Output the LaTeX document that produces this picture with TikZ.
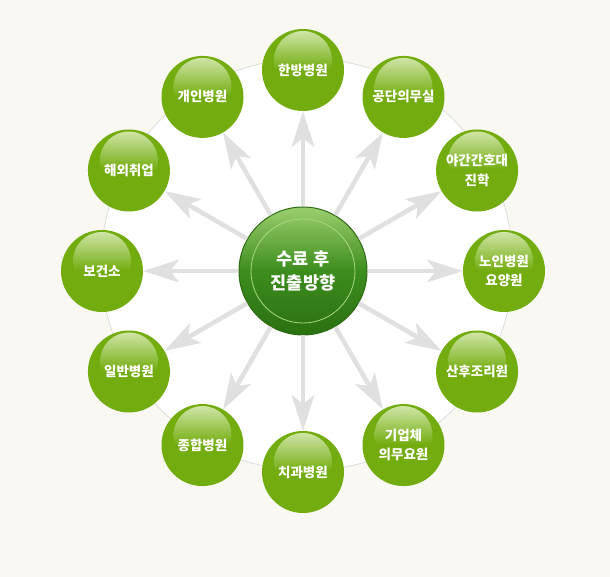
\documentclass[tikz,border=0pt]{standalone}
\usepackage{fontspec}
\setmainfont{Noto Sans CJK KR}
\usetikzlibrary{arrows.meta}

\definecolor{paper}{HTML}{F9F8F3}
\definecolor{ringgray}{HTML}{DCDCDA}
\definecolor{spokegray}{HTML}{E0E0E0}
\definecolor{leaf}{HTML}{72AC0E}
\definecolor{leaflight}{HTML}{D4E8AE}
\definecolor{pinelight}{HTML}{9CCF6E}
\definecolor{pine}{HTML}{3D8D1E}
\definecolor{pinedark}{HTML}{2A7011}
\definecolor{pineedge}{HTML}{2E6A10}
\definecolor{hubring}{HTML}{A9D884}

\tikzset{
	career/.style={circle, minimum size=82pt, inner sep=0pt, fill=leaf,
		text=white, align=center, font=\fontsize{13.5}{19.5}\selectfont\bfseries,
		path picture={\shade[top color=leaflight, bottom color=leaf, middle color=leaf]
			([yshift=-31pt]path picture bounding box.north) circle (29pt);}},
	hub/.style={circle, minimum size=128pt, inner sep=0pt, draw=pineedge, line width=1pt,
		top color=pinelight, bottom color=pinedark, middle color=pine,
		text=white, align=center, font=\fontsize{17.5}{24}\selectfont\bfseries,
		path picture={\draw[hubring, line width=0.8pt]
			(path picture bounding box.center) circle (52pt);}},
	spoke/.style={draw=spokegray, line width=4.5pt,
		-{Stealth[length=36pt, width=23pt, inset=9pt, line width=0pt]}}
}

\begin{document}
\begin{tikzpicture}[x=1pt, y=1pt]
	\fill [paper] (-303, -306) rectangle (307, 271);
	\useasboundingbox (-303, -306) rectangle (307, 271);
	\filldraw [fill=white, draw=ringgray, line width=0.8pt] (4, 6.5) circle[radius=206];

	\node[career] (hanbang) at (90:201) {한방병원};
	\node[career] (gongdan) at (60:201) {공단의무실};
	\node[career] (yagan) at (30:201) {야간간호대\\진학};
	\node[career] (noin) at (0:201) {노인병원\\요양원};
	\node[career] (sanhu) at (-30:201) {산후조리원};
	\node[career] (gieop) at (-60:201) {기업체\\의무요원};
	\node[career] (chigwa) at (-90:201) {치과병원};
	\node[career] (jonghap) at (-120:201) {종합병원};
	\node[career] (ilban) at (-150:201) {일반병원};
	\node[career] (bogeonso) at (180:201) {보건소};
	\node[career] (haeoe) at (150:201) {해외취업};
	\node[career] (gaein) at (120:201) {개인병원};

	\node[hub] (hub) at (0, 0) {수료 후\\진출방향};

	\draw[spoke] (hub) -- (hanbang);
	\draw[spoke] (hub) -- (gongdan);
	\draw[spoke] (hub) -- (yagan);
	\draw[spoke] (hub) -- (noin);
	\draw[spoke] (hub) -- (sanhu);
	\draw[spoke] (hub) -- (gieop);
	\draw[spoke] (hub) -- (chigwa);
	\draw[spoke] (hub) -- (jonghap);
	\draw[spoke] (hub) -- (ilban);
	\draw[spoke] (hub) -- (bogeonso);
	\draw[spoke] (hub) -- (haeoe);
	\draw[spoke] (hub) -- (gaein);
\end{tikzpicture}
\end{document}
